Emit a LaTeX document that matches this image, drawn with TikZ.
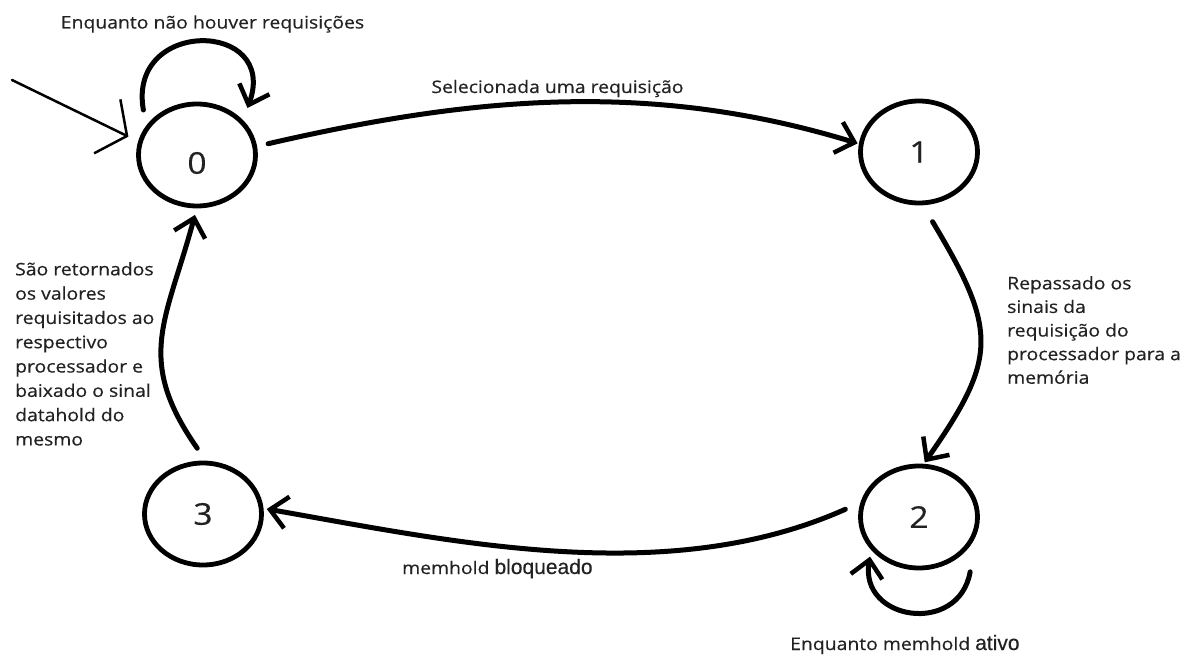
\documentclass[tikz,border=0pt]{standalone}
\usepackage{fontspec}
\setmainfont{Open Sans}[FakeStretch=1.12, FakeBold=0.4]
\newfontfamily\arialfont{Liberation Sans}[FakeBold=0.3]
\usetikzlibrary{arrows.meta,shapes.geometric}
\definecolor{ink}{HTML}{222222}
\begin{document}
\begin{tikzpicture}[x=1pt,y=1pt,
  state/.style={ellipse, draw=black, line width=4.8pt, minimum width=117pt, minimum height=102pt, inner sep=0pt, font=\fontsize{30}{30}\selectfont, text=ink},
  edge/.style={line width=5pt, line cap=round, -{Straight Barb[length=17pt,width=32pt,line width=4.5pt]}},
  lbl/.style={text=ink, inner sep=0pt},
  small/.style={lbl, font=\fontsize{17.3}{23.6}\selectfont},
  leftlbl/.style={lbl, font=\fontsize{17.3}{24.3}\selectfont},
]
\useasboundingbox (0,0) rectangle (1192,-655);
\fill[white] (0,0) rectangle (1192,-655);

\node[state, label={[font=\fontsize{30}{30}\selectfont, text=ink, yshift=-8pt]center:0}] (n0) at (197,-155) {};
\node[state] (n1) at (919,-152) {1};
\node[state] (n2) at (919,-517) {2};
\node[state] (n3) at (203,-514) {3};

\coordinate (init) at (12,-80);
\draw[line width=2.5pt, line cap=round, -{Straight Barb[length=22pt,width=60pt,line width=2.5pt]}] (init) -- ([shift={(165:71)}]n0.center);

\draw[edge] ([shift={(140:70)}]n0.center) to[out=100,in=70,looseness=2.3] ([shift={(43:69)}]n0.center);
\draw[edge] ([shift={(9:72)}]n0.center) to[out=13,in=163,looseness=0.93] ([shift={(172:62)}]n1.center);
\draw[edge] ([shift={(-79:71)}]n1.center) to[out=-59,in=55,looseness=1.35] ([shift={(84:55)}]n2.center);
\draw[edge] ([shift={(174:74)}]n2.center) to[out=204,in=-10,looseness=0.86] ([shift={(4.5:64)}]n3.center);
\draw[edge] ([shift={(-47:75)}]n2.center) to[out=-100,in=-100,looseness=1.65] ([shift={(-141:63)}]n2.center);
\draw[edge] ([shift={(95:66)}]n3.center) to[out=125,in=-105,looseness=1.2] ([shift={(-92:60)}]n0.center);

\node[small, anchor=base] (l0) at (212.5,-28.5) {Enquanto não houver requisições};
\node[small, anchor=base] (l01) at (557.5,-93) {Selecionada uma requisição};
\node[small, anchor=north west, align=left] (l12) at (1007,-276) {Repassado os\\sinais da\\requisição do\\processador para a\\memória};
\node[leftlbl, anchor=north west, align=left] (l30) at (15,-262) {São retornados\\os valores\\requisitados ao\\respectivo\\processador e\\baixado o sinal\\datahold do\\mesmo};
\node[small, anchor=base west] (l23) at (402,-574) {memhold {\arialfont\fontsize{21}{21}\selectfont bloqueado}};
\node[small, anchor=base west] (l22) at (790,-650) {Enquanto memhold {\arialfont\fontsize{21}{21}\selectfont ativo}};
\end{tikzpicture}
\end{document}
